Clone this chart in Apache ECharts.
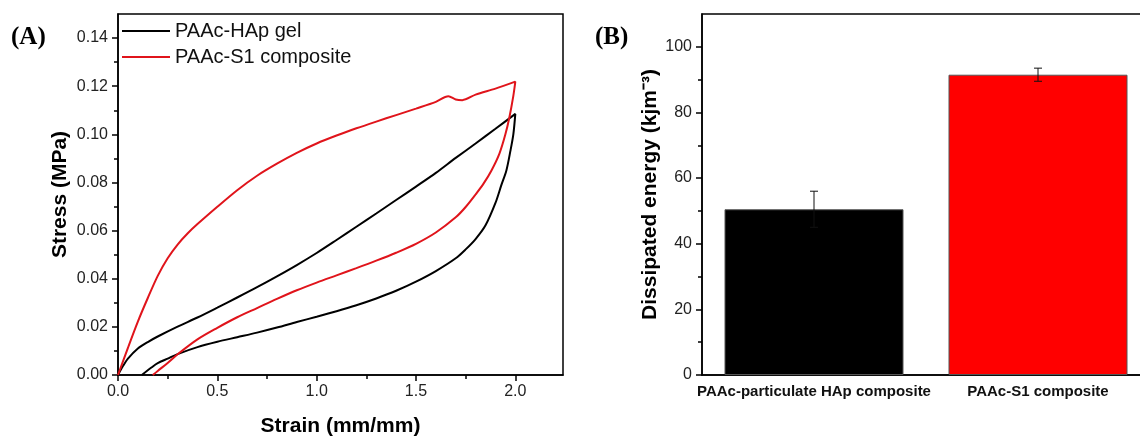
<!DOCTYPE html>
<html><head><meta charset="utf-8">
<script src="https://cdn.jsdelivr.net/npm/echarts/dist/echarts.min.js"></script>
<style>html,body{margin:0;padding:0;background:#fff}#c{width:1140px;height:437px}</style>
</head><body><div id="c"></div>
<script>
// ---- Panel A data: loading then unloading path ----
const hapStrain = [0, 0.025, 0.05, 0.1, 0.15, 0.2, 0.3, 0.4, 0.5, 0.6, 0.7, 0.8, 0.9, 1.0, 1.1, 1.2, 1.3, 1.4, 1.5, 1.6, 1.7, 1.8, 1.9, 2.0,
  1.99, 1.975, 1.955, 1.93, 1.9, 1.85, 1.8, 1.75, 1.7, 1.6, 1.5, 1.4, 1.3, 1.2, 1.1, 1.0, 0.9, 0.8, 0.7, 0.6, 0.5, 0.4, 0.3, 0.25, 0.2, 0.17, 0.12];
const hapStress = [0, 0.0037, 0.0068, 0.011, 0.0137, 0.016, 0.0201, 0.0239, 0.028, 0.0322, 0.0365, 0.041, 0.0457, 0.0507, 0.0561, 0.0616, 0.0671, 0.0727, 0.0783, 0.084, 0.0902, 0.0962, 0.1023, 0.1085,
  0.1, 0.093, 0.085, 0.079, 0.0715, 0.0622, 0.0565, 0.0522, 0.0485, 0.0432, 0.0388, 0.035, 0.0318, 0.029, 0.0265, 0.0242, 0.022, 0.0197, 0.0176, 0.0157, 0.0138, 0.0116, 0.0087, 0.0068, 0.0049, 0.0032, 0];
const s1Strain = [0, 0.05, 0.1, 0.15, 0.2, 0.25, 0.3, 0.35, 0.4, 0.5, 0.6, 0.7, 0.8, 0.9, 1.0, 1.1, 1.2, 1.3, 1.4, 1.5, 1.6, 1.663, 1.7, 1.733, 1.8, 1.9, 2.0,
  1.99, 1.97, 1.95, 1.92, 1.88, 1.84, 1.8, 1.75, 1.7, 1.6, 1.5, 1.4, 1.3, 1.2, 1.1, 1.0, 0.9, 0.8, 0.7, 0.6, 0.5, 0.4, 0.3, 0.25, 0.2, 0.175];
const s1Stress = [0, 0.0113, 0.0222, 0.032, 0.0412, 0.0485, 0.0542, 0.0588, 0.0627, 0.0699, 0.0768, 0.0828, 0.0878, 0.0923, 0.0962, 0.0995, 0.1025, 0.1053, 0.108, 0.1107, 0.1135, 0.1158, 0.1145, 0.1142, 0.1165, 0.119, 0.1219,
  0.116, 0.107, 0.1, 0.092, 0.085, 0.0795, 0.075, 0.0698, 0.0655, 0.0592, 0.0545, 0.0508, 0.0475, 0.0444, 0.0414, 0.0384, 0.0352, 0.0316, 0.0278, 0.024, 0.0196, 0.0148, 0.0086, 0.005, 0.0017, 0];
const seriesNames = ['PAAc-HAp gel', 'PAAc-S1 composite'];
const xMajorTicks = [0, 0.5, 1.0, 1.5, 2.0];
const xMinorTicks = [0.25, 0.75, 1.25, 1.75];
const yMajorTicks = [0, 0.02, 0.04, 0.06, 0.08, 0.10, 0.12, 0.14];
const yMinorTicks = [0.01, 0.03, 0.05, 0.07, 0.09, 0.11, 0.13];

// ---- Panel B data ----
const barCategories = ['PAAc-particulate HAp composite', 'PAAc-S1 composite'];
const barValues = [50.5, 91.5];
const barErrors = [5.5, 2.0];
const barYMajor = [0, 20, 40, 60, 80, 100];
const barYMinor = [10, 30, 50, 70, 90];

const FONT = '"Liberation Sans", Arial, sans-serif';
const axisLine = { show: true, lineStyle: { color: '#000', width: 1.5 } };
const tickStyle = { color: '#000', width: 1.5 };
const labelStyle = { fontSize: 16, color: '#222', fontFamily: FONT };
const nameStyle = { fontSize: 21, fontWeight: 'bold', color: '#000', fontFamily: FONT };

const chart = echarts.init(document.getElementById('c'), null, { renderer: 'canvas' });
chart.setOption({
  animation: false,
  backgroundColor: '#fff',
  grid: [
    { left: 118, top: 14, width: 445, height: 361, show: true, borderColor: '#000', borderWidth: 1.5, outerBoundsMode: 'none' },
    { left: 702, top: 14, width: 448, height: 361, show: true, borderColor: '#000', borderWidth: 1.5, outerBoundsMode: 'none' }
  ],
  legend: {
    data: seriesNames.map(n => ({ name: n, icon: 'rect' })), orient: 'vertical', left: 122, top: 21, padding: 0,
    itemWidth: 48, itemHeight: 2, itemGap: 6,
    textStyle: { fontSize: 20, color: '#111', fontFamily: FONT, lineHeight: 20 }
  },
  graphic: [
    { type: 'text', left: 11, top: 25, style: { text: '(A)', font: 'bold 25px "Liberation Serif", "Times New Roman", serif', fill: '#000' } },
    { type: 'text', left: 595, top: 25, style: { text: '(B)', font: 'bold 25px "Liberation Serif", "Times New Roman", serif', fill: '#000' } }
  ],
  xAxis: [
    { gridIndex: 0, type: 'value', min: 0, max: 2.24, position: 'bottom',
      axisLine: axisLine, splitLine: { show: false },
      axisTick: { show: true, customValues: xMajorTicks, length: 6, lineStyle: tickStyle },
      axisLabel: Object.assign({ customValues: xMajorTicks, margin: 9, formatter: v => v.toFixed(1) }, labelStyle),
      name: 'Strain (mm/mm)', nameLocation: 'middle', nameGap: 41, nameTextStyle: nameStyle },
    { gridIndex: 0, type: 'value', min: 0, max: 2.24, position: 'bottom',
      axisLine: { show: false }, splitLine: { show: false }, axisLabel: { show: false },
      axisTick: { show: true, customValues: xMinorTicks, length: 4, lineStyle: tickStyle } },
    { gridIndex: 1, type: 'category', data: barCategories, position: 'bottom',
      axisLine: axisLine, axisTick: { show: false },
      axisLabel: { interval: 0, fontSize: 15, fontWeight: 'bold', color: '#111', fontFamily: FONT, margin: 9 } }
  ],
  yAxis: [
    { gridIndex: 0, type: 'value', min: 0, max: 0.15, position: 'left',
      axisLine: axisLine, splitLine: { show: false },
      axisTick: { show: true, customValues: yMajorTicks, length: 6, lineStyle: tickStyle },
      axisLabel: Object.assign({ customValues: yMajorTicks, margin: 10, formatter: v => v.toFixed(2) }, labelStyle),
      name: 'Stress (MPa)', nameLocation: 'middle', nameGap: 47, nameTextStyle: nameStyle },
    { gridIndex: 0, type: 'value', min: 0, max: 0.15, position: 'left',
      axisLine: { show: false }, splitLine: { show: false }, axisLabel: { show: false },
      axisTick: { show: true, customValues: yMinorTicks, length: 4, lineStyle: tickStyle } },
    { gridIndex: 1, type: 'value', min: 0, max: 110, position: 'left',
      axisLine: axisLine, splitLine: { show: false },
      axisTick: { show: true, customValues: barYMajor, length: 6, lineStyle: tickStyle },
      axisLabel: Object.assign({ customValues: barYMajor, margin: 10 }, labelStyle),
      name: 'Dissipated energy (kjm⁻³)', nameLocation: 'middle', nameGap: 41, nameTextStyle: nameStyle },
    { gridIndex: 1, type: 'value', min: 0, max: 110, position: 'left',
      axisLine: { show: false }, splitLine: { show: false }, axisLabel: { show: false },
      axisTick: { show: true, customValues: barYMinor, length: 4, lineStyle: tickStyle } }
  ],
  series: [
    { name: seriesNames[0], type: 'line', xAxisIndex: 0, yAxisIndex: 0, symbol: 'none', smooth: 0.3,
      lineStyle: { color: '#000', width: 2 }, itemStyle: { color: '#000' },
      data: hapStrain.map((x, i) => [x, hapStress[i]]) },
    { name: seriesNames[1], type: 'line', xAxisIndex: 0, yAxisIndex: 0, symbol: 'none', smooth: 0.3,
      lineStyle: { color: '#e0141b', width: 2 }, itemStyle: { color: '#e0141b' },
      data: s1Strain.map((x, i) => [x, s1Stress[i]]) },
    { name: 'bars', type: 'bar', xAxisIndex: 2, yAxisIndex: 2, barWidth: 179,
      itemStyle: { borderColor: '#555', borderWidth: 1 },
      data: barValues.map((v, i) => ({ value: v, itemStyle: { color: i === 0 ? '#000' : '#ff0000' } })) },
    { name: 'err', type: 'custom', xAxisIndex: 2, yAxisIndex: 2, z: 10,
      encode: { x: 0, y: [1, 2] },
      data: barValues.map((v, i) => [i, v - barErrors[i], v + barErrors[i]]),
      renderItem: function (params, api) {
        const x = api.value(0);
        const lo = api.coord([x, api.value(1)]);
        const hi = api.coord([x, api.value(2)]);
        const w = 4, st = { stroke: '#111', lineWidth: 1 };
        return { type: 'group', children: [
          { type: 'line', shape: { x1: lo[0], y1: lo[1], x2: hi[0], y2: hi[1] }, style: st },
          { type: 'line', shape: { x1: hi[0] - w, y1: hi[1], x2: hi[0] + w, y2: hi[1] }, style: st },
          { type: 'line', shape: { x1: lo[0] - w, y1: lo[1], x2: lo[0] + w, y2: lo[1] }, style: st }
        ] };
      } }
  ]
});
</script></body></html>
